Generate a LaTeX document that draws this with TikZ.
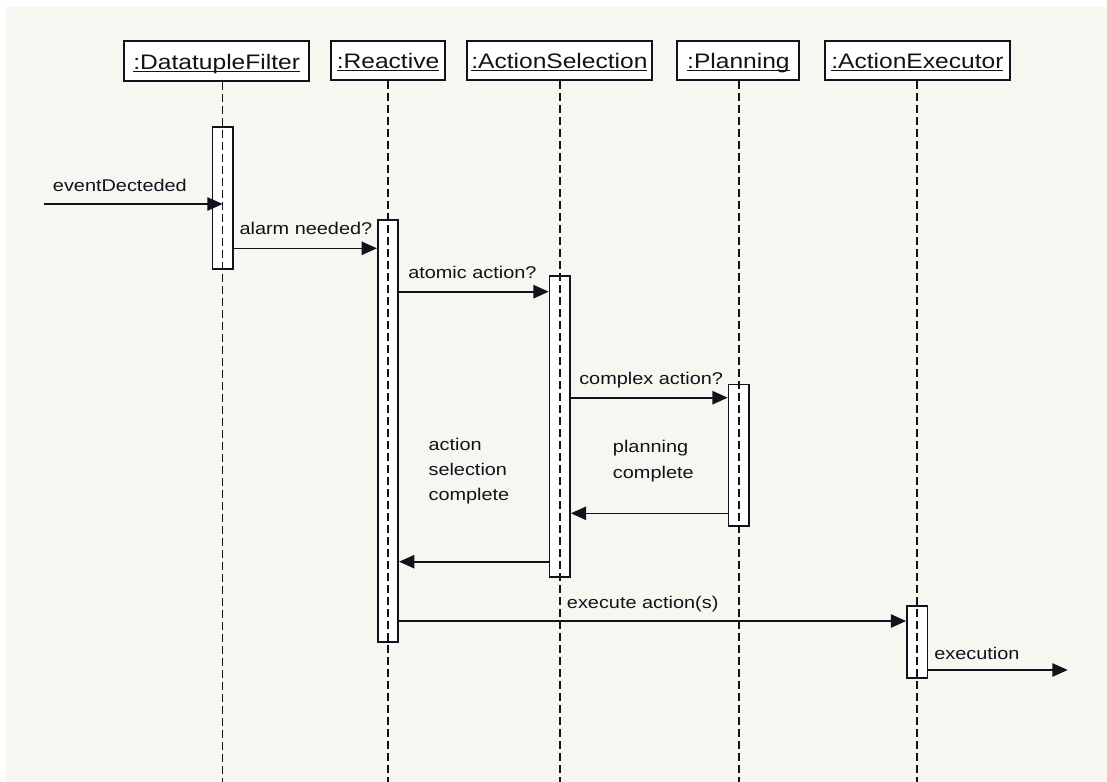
\documentclass[tikz,border=0pt]{standalone}
\usepackage{fontspec}
\setmainfont[FakeStretch=1.17]{Liberation Sans}
\usetikzlibrary{arrows.meta,positioning,calc}
\definecolor{Ink}{HTML}{12121C}
\definecolor{Paper}{HTML}{F8F6F0}
\newcommand{\objname}[1]{\underline{\smash{#1}}\rule[-4pt]{0pt}{20.4pt}}

\begin{document}
\begin{tikzpicture}[x=0.75pt,y=-0.75pt,
  objbox/.style={draw=Ink,fill=white,line width=1.5pt,minimum height=29.5pt,inner sep=0pt,font=\fontsize{15.75}{18}\selectfont,text=Ink},
  actbar/.style={draw=Ink,fill=white,line width=1.2pt,minimum width=15.4pt,inner sep=0pt},
  lifeline/.style={draw=Ink,line width=1.1pt,dash pattern=on 6pt off 3pt},
  msg/.style={draw=Ink,line width=1.2pt,-{Triangle[length=11.5pt,width=10pt]}},
  msglabel/.style={anchor=base west,inner sep=0pt,align=left,font=\fontsize{12.75}{19}\selectfont,text=Ink}]
\useasboundingbox (0,0) rectangle (1107,782);
\fill[white] (0,0) rectangle (1107,782);
\fill[Paper] (6,7) rectangle (1107,782);
% objects
\node[objbox,minimum width=139pt] (filter) at (216.7,61) {\objname{:DatatupleFilter}};
\node[objbox,minimum width=86pt] (reactive) at (388,60.5) {\objname{:Reactive}};
\node[objbox,minimum width=139pt] (selection) at (559.4,60.5) {\objname{:ActionSelection}};
\node[objbox,minimum width=91.5pt] (planning) at (738.4,60.5) {\objname{:Planning}};
\node[objbox,minimum width=139pt] (executor) at (917.4,60.5) {\objname{:ActionExecutor}};
% activations
\node[actbar,minimum height=106.7pt] (filterbar) at (222.7,197.9) {};
\node[actbar,minimum height=316.5pt] (reactivebar) at (388,431) {};
\node[actbar,minimum height=225.7pt] (selectionbar) at (559.8,426.5) {};
\node[actbar,minimum height=106.3pt] (planningbar) at (738.8,455.2) {};
\node[actbar,minimum height=54pt] (executorbar) at (917.2,641.7) {};
% lifelines
\draw[lifeline] (filter.south -| filterbar.center) -- (filterbar.center |- 0,782);
\draw[lifeline] (reactive.south -| reactivebar.center) -- (reactivebar.center |- 0,782);
\draw[lifeline] (selection.south -| selectionbar.center) -- (selectionbar.center |- 0,782);
\draw[lifeline] (planning.south -| planningbar.center) -- (planningbar.center |- 0,782);
\draw[lifeline] (executor.south -| executorbar.center) -- (executorbar.center |- 0,782);
% messages
\coordinate (found) at (44,204);
\coordinate (lost) at (1067.7,670);
\draw[msg] (found) -- (filterbar.center |- found);
\node[msglabel] (evlabel) at (52.7,191.5) {eventDecteded};
\draw[msg] (filterbar.east |- 0,248.3) -- (reactivebar.west |- 0,248.3);
\node[msglabel] (alarmlabel) at (239.3,234.5) {alarm needed?};
\draw[msg] (reactivebar.east |- 0,291.7) -- (selectionbar.west |- 0,291.7);
\node[msglabel] (atomiclabel) at (408,278.5) {atomic action?};
\draw[msg] (selectionbar.east |- 0,397.7) -- (planningbar.west |- 0,397.7);
\node[msglabel] (complexlabel) at (579,384.7) {complex action?};
\draw[msg] (planningbar.west |- 0,513.3) -- (selectionbar.east |- 0,513.3);
\node[msglabel] (planlabel) at (612.7,478.3) {planning\\complete};
\draw[msg] (selectionbar.west |- 0,561.7) -- (reactivebar.east |- 0,561.7);
\node[msglabel] (sellabel) at (428.3,500.7) {action\\selection\\complete};
\draw[msg] (reactivebar.east |- 0,621) -- (executorbar.west |- 0,621);
\node[msglabel] (execlabel) at (566.7,608) {execute action(s)};
\draw[msg] (executorbar.east |- lost) -- (lost);
\node[msglabel] (runlabel) at (934,659.3) {execution};
\end{tikzpicture}
\end{document}
